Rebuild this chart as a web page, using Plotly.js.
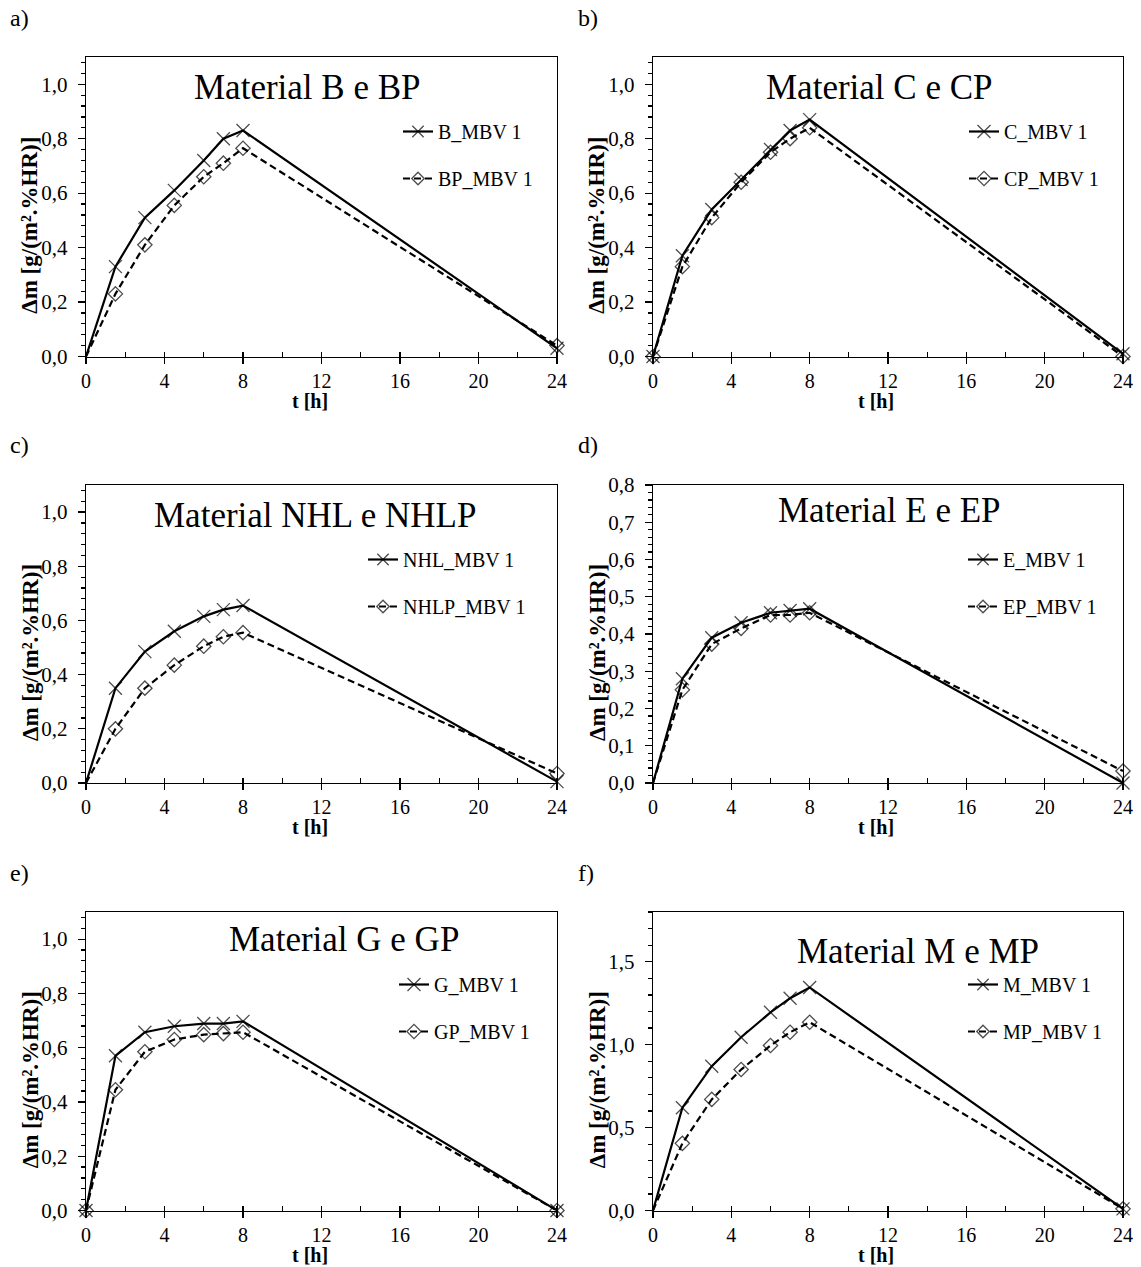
<!DOCTYPE html>
<html>
<head>
<meta charset="utf-8">
<script src="https://cdn.plot.ly/plotly-3.0.1.min.js"></script>
<style>
  html, body { margin: 0; padding: 0; background: #ffffff; }
  #chart { width: 1141px; height: 1267px; }
</style>
</head>
<body>
<div id="chart"></div>
<script>
// Sampling times of the moisture buffer cycle [h]
const hours = [0, 1.5, 3, 4.5, 6, 7, 8, 24];

// Mass variation Δm [g/(m².%HR)] for each material (plain and P variant)
const B_MBV1    = [0, 0.33, 0.51, 0.61, 0.72, 0.80, 0.83, 0.03];
const BP_MBV1   = [0, 0.23, 0.41, 0.555, 0.66, 0.71, 0.765, 0.04];
const C_MBV1    = [0, 0.37, 0.54, 0.65, 0.76, 0.83, 0.87, 0.01];
const CP_MBV1   = [0, 0.33, 0.51, 0.64, 0.75, 0.80, 0.84, 0.0];
const NHL_MBV1  = [0, 0.35, 0.485, 0.56, 0.615, 0.64, 0.655, 0.005];
const NHLP_MBV1 = [0, 0.20, 0.35, 0.435, 0.505, 0.54, 0.555, 0.035];
const E_MBV1    = [0, 0.28, 0.39, 0.43, 0.457, 0.463, 0.468, 0.0];
const EP_MBV1   = [0, 0.25, 0.373, 0.415, 0.451, 0.451, 0.457, 0.032];
const G_MBV1    = [0, 0.57, 0.657, 0.679, 0.689, 0.689, 0.697, 0.0];
const GP_MBV1   = [0, 0.445, 0.585, 0.63, 0.648, 0.652, 0.657, 0.0];
const M_MBV1    = [0, 0.62, 0.87, 1.045, 1.195, 1.28, 1.345, 0.01];
const MP_MBV1   = [0, 0.405, 0.67, 0.85, 0.995, 1.075, 1.135, 0.01];

// Labels
const panelLabels = ['a)', 'b)', 'c)', 'd)', 'e)', 'f)'];
const panelTitles = ['Material B e BP', 'Material C e CP', 'Material NHL e NHLP',
                     'Material E e EP', 'Material G e GP', 'Material M e MP'];
const seriesNames = [['B_MBV 1', 'BP_MBV 1'], ['C_MBV 1', 'CP_MBV 1'], ['NHL_MBV 1', 'NHLP_MBV 1'],
                     ['E_MBV 1', 'EP_MBV 1'], ['G_MBV 1', 'GP_MBV 1'], ['M_MBV 1', 'MP_MBV 1']];
const seriesValues = [[B_MBV1, BP_MBV1], [C_MBV1, CP_MBV1], [NHL_MBV1, NHLP_MBV1],
                      [E_MBV1, EP_MBV1], [G_MBV1, GP_MBV1], [M_MBV1, MP_MBV1]];
const yTitle = 'Δm [g/(m².%HR)]';
const xTitle = 't [h]';

// Axis scales per panel: [max, major step, minor step]
const yScales = [[1.1, 0.2, 0.04], [1.1, 0.2, 0.04], [1.1, 0.2, 0.04],
                 [0.8, 0.1, 0.02], [1.1, 0.2, 0.04], [1.8, 0.5, 0.1]];

// ---- page geometry (pixels) ----
const W = 1141, H = 1267;
const FONT = 'Liberation Serif';
const colX = [[86, 557], [653, 1123]];
const rowY = [[57, 356.5], [485, 783], [912, 1210.5]];
const titleCenter = [[307, 87], [879, 88], [315, 515], [889, 511], [344, 940], [918, 951]];
const legendTextX = [440, 1006, 405, 1005, 436, 1005];
const legendFirstY = [129, 129, 557, 557, 982, 982];
const originMarkers = [false, true, false, false, true, false];

const px = x => x / W;
const py = y => 1 - y / H;

const traces = [];
const layout = {
  width: W, height: H,
  margin: { l: 0, r: 0, t: 0, b: 0 },
  paper_bgcolor: '#ffffff',
  plot_bgcolor: '#ffffff',
  separators: ', ',
  font: { family: FONT, color: '#000000' },
  annotations: []
};

for (let i = 0; i < 6; i++) {
  const col = i % 2, row = Math.floor(i / 2);
  const xa = 'x' + (i + 1), ya = 'y' + (i + 1);
  const xKey = 'xaxis' + (i + 1), yKey = 'yaxis' + (i + 1);
  const legKey = i === 0 ? 'legend' : 'legend' + (i + 1);
  const [x0, x1] = colX[col];
  const [y0, y1] = rowY[row];
  const [ymax, ydt, ymin] = yScales[i];

  layout[xKey] = {
    domain: [px(x0), px(x1)], anchor: ya, range: [0, 24],
    tick0: 0, dtick: 4, ticks: 'outside', ticklen: 6, tickwidth: 1.2, tickcolor: '#000',
    minor: { dtick: 2, ticks: 'inside', ticklen: 5, tickwidth: 1.2, tickcolor: '#000' },
    showline: true, linecolor: '#000', linewidth: 1.3, mirror: true,
    showgrid: false, zeroline: false, fixedrange: true,
    ticklabelstandoff: 0,
    tickfont: { family: FONT, size: 20, color: '#000' }
  };
  layout[yKey] = {
    domain: [py(y1), py(y0)], anchor: xa, range: [0, ymax],
    tick0: 0, dtick: ydt, tickformat: '.1f',
    ticks: 'outside', ticklen: 7, tickwidth: 1.2, tickcolor: '#000',
    minor: { dtick: ymin, ticks: 'outside', ticklen: 4, tickwidth: 1.2, tickcolor: '#000' },
    showline: true, linecolor: '#000', linewidth: 1.3, mirror: true,
    showgrid: false, zeroline: false, fixedrange: true,
    ticklabelstandoff: 6,
    tickfont: { family: FONT, size: 21, color: '#000' }
  };
  layout[legKey] = {
    x: px(legendTextX[i] - 42), y: py(legendFirstY[i] - 17),
    xanchor: 'left', yanchor: 'top',
    bgcolor: 'rgba(0,0,0,0)', borderwidth: 0,
    tracegroupgap: 18,
    font: { family: FONT, size: 20, color: '#000' }
  };

  const sizes = (base) => hours.map((h, k) => (k === 0 && !originMarkers[i]) ? 0 : base);

  // solid series with x markers
  traces.push({
    type: 'scatter', mode: 'lines+markers', xaxis: xa, yaxis: ya,
    x: hours, y: seriesValues[i][0], name: seriesNames[i][0],
    legend: legKey, legendgroup: 'p' + i + 'a', cliponaxis: false,
    line: { color: '#000', width: 2.2 },
    marker: { symbol: 'x-thin-open', size: sizes(13), color: '#000', line: { color: '#000', width: 1.3 } }
  });
  // dashed series with diamond markers
  traces.push({
    type: 'scatter', mode: 'lines+markers', xaxis: xa, yaxis: ya,
    x: hours, y: seriesValues[i][1], name: seriesNames[i][1],
    legend: legKey, legendgroup: 'p' + i + 'b', cliponaxis: false,
    line: { color: '#000', width: 2.2, dash: '7px,4px' },
    marker: { symbol: 'diamond-open', size: sizes(11), color: '#000', line: { color: '#000', width: 1.3 } }
  });

  // panel letter
  layout.annotations.push({
    xref: 'paper', yref: 'paper', x: px(col === 0 ? 8 : 576), y: py(row === 0 ? 18 : (row === 1 ? 445 : 873)),
    xanchor: 'left', yanchor: 'middle', showarrow: false,
    text: panelLabels[i], font: { family: FONT, size: 24, color: '#000' }
  });
  // panel title
  layout.annotations.push({
    xref: 'paper', yref: 'paper', x: px(titleCenter[i][0]), y: py(titleCenter[i][1]),
    xanchor: 'center', yanchor: 'middle', showarrow: false,
    text: panelTitles[i], font: { family: FONT, size: 35, color: '#000' }
  });
  // y axis title
  layout.annotations.push({
    xref: 'paper', yref: 'paper', x: px(x0 - 56), y: py((y0 + y1) / 2 + 19),
    xanchor: 'center', yanchor: 'middle', showarrow: false, textangle: -90,
    text: '<b>' + yTitle + '</b>', font: { family: FONT, size: 23, color: '#000' }
  });
  // x axis title
  layout.annotations.push({
    xref: 'paper', yref: 'paper', x: px((x0 + x1) / 2 - 12), y: py(y1 + 44),
    xanchor: 'center', yanchor: 'middle', showarrow: false,
    text: '<b>' + xTitle + '</b>', font: { family: FONT, size: 20, color: '#000' }
  });
}

Plotly.newPlot('chart', traces, layout, { staticPlot: true, displayModeBar: false });
</script>
</body>
</html>
